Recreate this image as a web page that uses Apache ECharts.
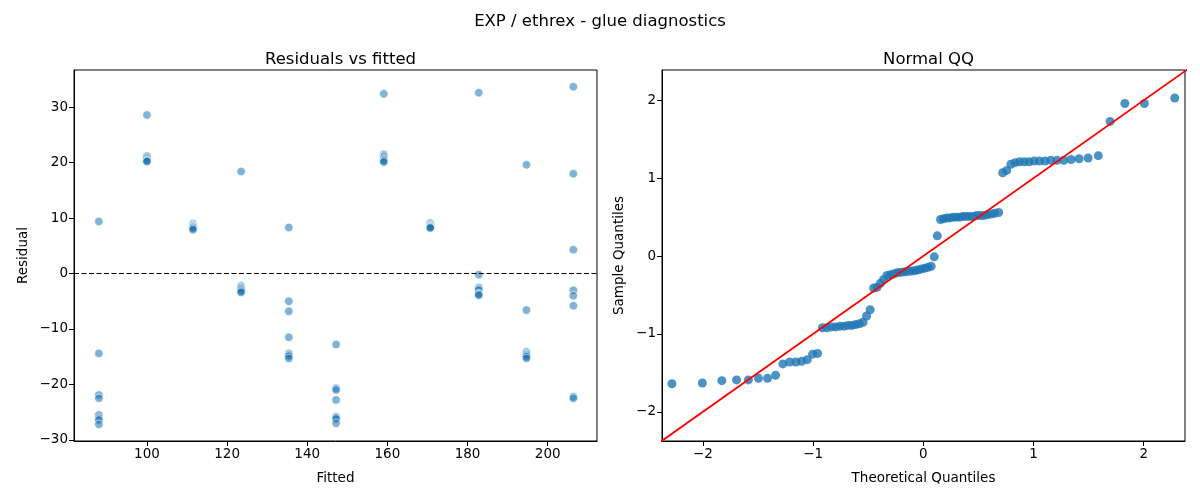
<!DOCTYPE html>
<html>
<head>
<meta charset="utf-8">
<script src="https://cdn.jsdelivr.net/npm/echarts@6/dist/echarts.min.js"></script>
<style>
  html, body { margin: 0; padding: 0; background: #fff; }
</style>
</head>
<body>
<div id="main" style="width: 1200px;height:500px;"></div>
<script type="text/javascript">

// residuals vs fitted: one residual list per fitted level
var fittedLevels = [88.0, 100.0, 111.5, 123.5, 135.4, 147.2, 159.1, 170.7, 182.8, 194.7, 206.4];
var residualsByLevel = [
  [9.4, -14.4, -21.9, -22.5, -25.5, -26.1, -26.4, -27.2],
  [28.6, 21.2, 21.0, 20.8, 20.6, 20.4, 20.3, 20.2],
  [9.0, 8.8, 8.6, 8.5, 8.4, 8.3, 8.1, 7.9],
  [18.4, -2.2, -2.5, -2.6, -2.8, -3.0, -3.2, -3.4],
  [8.3, -5.0, -6.8, -11.5, -14.4, -14.7, -14.9, -15.3],
  [-12.8, -20.7, -21.0, -22.8, -25.8, -26.0, -26.2, -27.0],
  [32.4, 21.5, 21.2, 21.0, 20.7, 20.5, 20.3, 20.1],
  [9.1, 8.9, 8.7, 8.6, 8.5, 8.4, 8.3, 8.2],
  [32.6, -0.2, -2.5, -2.8, -3.0, -3.6, -3.8, -3.9],
  [19.6, -6.6, -14.1, -14.4, -14.6, -14.8, -15.0, -15.3],
  [33.7, 18.0, 4.3, -3.0, -4.0, -5.8, -22.2, -22.5]
];
var fittedTicks = [100, 120, 140, 160, 180, 200];
var residTicks = [-30, -20, -10, 0, 10, 20, 30];

// normal QQ
var qqTheoretical = [
  -2.282, -2.006, -1.829, -1.695, -1.588, -1.496, -1.414, -1.341, -1.275, -1.214, -1.157,
  -1.104, -1.053, -1.005, -0.960, -0.916, -0.874, -0.834, -0.795, -0.757, -0.720, -0.683,
  -0.648, -0.614, -0.580, -0.547, -0.515, -0.483, -0.451, -0.420, -0.390, -0.360, -0.330,
  -0.300, -0.271, -0.242, -0.213, -0.184, -0.156, -0.127, -0.099, -0.071, -0.042, -0.014,
  0.014, 0.042, 0.071, 0.099, 0.127, 0.156, 0.184, 0.213, 0.242, 0.271, 0.300,
  0.330, 0.360, 0.390, 0.420, 0.451, 0.483, 0.515, 0.547, 0.580, 0.614, 0.648,
  0.683, 0.720, 0.757, 0.795, 0.834, 0.874, 0.916, 0.960, 1.005, 1.053, 1.104,
  1.157, 1.214, 1.275, 1.341, 1.414, 1.496, 1.588, 1.695, 1.829, 2.006, 2.282
];
var qqSample = [
  -1.64, -1.63, -1.60, -1.59, -1.59, -1.57, -1.57, -1.53,
  -1.385, -1.36, -1.36, -1.35, -1.33, -1.26, -1.25,
  -0.92, -0.92, -0.91, -0.91, -0.90, -0.90, -0.89, -0.89, -0.88, -0.87, -0.85, -0.77, -0.69,
  -0.41, -0.40, -0.35, -0.30, -0.25, -0.24, -0.23, -0.215, -0.21, -0.205, -0.20, -0.195,
  -0.19, -0.185, -0.175, -0.165, -0.155, -0.145, -0.13,
  -0.01, 0.26,
  0.47, 0.48, 0.49, 0.49, 0.50, 0.50, 0.50, 0.51, 0.51, 0.51, 0.51, 0.52, 0.52, 0.52, 0.53, 0.54, 0.55, 0.56,
  1.07, 1.10,
  1.18, 1.20, 1.21, 1.21, 1.21, 1.22, 1.22, 1.22, 1.23, 1.23, 1.23, 1.24, 1.25, 1.26, 1.29,
  1.73, 1.96, 1.96, 2.03
];
var qqTicks = [-2, -1, 0, 1, 2];
var qqLine = [-2.5, 2.5];

var residPoints = [];
fittedLevels.forEach(function (f, i) {
  residualsByLevel[i].forEach(function (r) { residPoints.push([f, r]); });
});
var qqPoints = qqTheoretical.map(function (t, i) { return [t, qqSample[i]]; });

var font = 'DejaVu Sans';
function minusFmt(v) { return String(v).replace('-', '\u2212'); }
function axisBase(ticks) {
  return {
    type: 'value',
    splitLine: { show: false },
    axisLine: { show: true, onZero: false, lineStyle: { color: '#000', width: 1 } },
    axisTick: { show: true, inside: false, length: 5, lineStyle: { color: '#000' }, customValues: ticks },
    axisLabel: { color: '#000', fontFamily: font, fontSize: 13.5, margin: 6, customValues: ticks, formatter: minusFmt }
  };
}

var myChart = echarts.init(document.getElementById('main'));

var xa0 = axisBase(fittedTicks);
xa0.gridIndex = 0; xa0.min = 81.8; xa0.max = 212.3;
xa0.name = 'Fitted'; xa0.nameLocation = 'middle'; xa0.nameGap = 30;
xa0.nameTextStyle = { color: '#000', fontFamily: font, fontSize: 13.5 };

var xa1 = axisBase(qqTicks);
xa1.gridIndex = 1; xa1.min = -2.372; xa1.max = 2.375;
xa1.name = 'Theoretical Quantiles'; xa1.nameLocation = 'middle'; xa1.nameGap = 30;
xa1.nameTextStyle = { color: '#000', fontFamily: font, fontSize: 13.5 };

var ya0 = axisBase(residTicks);
ya0.gridIndex = 0; ya0.min = -30.2; ya0.max = 36.7;
ya0.name = 'Residual'; ya0.nameLocation = 'middle'; ya0.nameGap = 44;
ya0.nameTextStyle = { color: '#000', fontFamily: font, fontSize: 13.5 };

var ya1 = axisBase(qqTicks);
ya1.gridIndex = 1; ya1.min = -2.375; ya1.max = 2.39;
ya1.name = 'Sample Quantiles'; ya1.nameLocation = 'middle'; ya1.nameGap = 36;
ya1.nameTextStyle = { color: '#000', fontFamily: font, fontSize: 13.5 };

var option = {
  animation: false,
  backgroundColor: '#fff',
  textStyle: { fontFamily: font },
  title: [
    { text: 'EXP / ethrex - glue diagnostics', left: 'center', top: 8,
      textStyle: { fontFamily: font, fontSize: 16.5, fontWeight: 'normal', color: '#000' } },
    { text: 'Residuals vs fitted', left: 335.5, textAlign: 'center', top: 46,
      textStyle: { fontFamily: font, fontSize: 16.5, fontWeight: 'normal', color: '#000' } },
    { text: 'Normal QQ', left: 923.5, textAlign: 'center', top: 46,
      textStyle: { fontFamily: font, fontSize: 16.5, fontWeight: 'normal', color: '#000' } }
  ],
  grid: [
    { left: 74, top: 70, width: 523, height: 371, show: true, borderColor: '#000', borderWidth: 1, backgroundColor: 'transparent' },
    { left: 662, top: 70, width: 523, height: 371, show: true, borderColor: '#000', borderWidth: 1, backgroundColor: 'transparent' }
  ],
  xAxis: [xa0, xa1],
  yAxis: [ya0, ya1],
  series: [
    {
      name: 'residuals',
      type: 'scatter',
      xAxisIndex: 0, yAxisIndex: 0,
      symbolSize: 8.5,
      itemStyle: { color: 'rgba(31,119,180,0.7)', borderColor: '#fff', borderWidth: 0.8 },
      data: residPoints,
      markLine: {
        silent: true,
        symbol: ['none', 'none'],
        label: { show: false },
        lineStyle: { color: '#000', type: [5, 2.5], width: 1 },
        data: [{ yAxis: 0 }]
      }
    },
    {
      name: 'qq',
      type: 'scatter',
      xAxisIndex: 1, yAxisIndex: 1,
      symbolSize: 9,
      itemStyle: { color: '#1f77b4' },
      data: qqPoints
    },
    {
      name: '45',
      type: 'line',
      xAxisIndex: 1, yAxisIndex: 1,
      symbol: 'none',
      clip: true,
      z: 5,
      lineStyle: { color: '#ff0000', width: 1.8 },
      data: [[qqLine[0], qqLine[0]], [qqLine[1], qqLine[1]]]
    }
  ]
};

myChart.setOption(option);

</script>
</body>
</html>
